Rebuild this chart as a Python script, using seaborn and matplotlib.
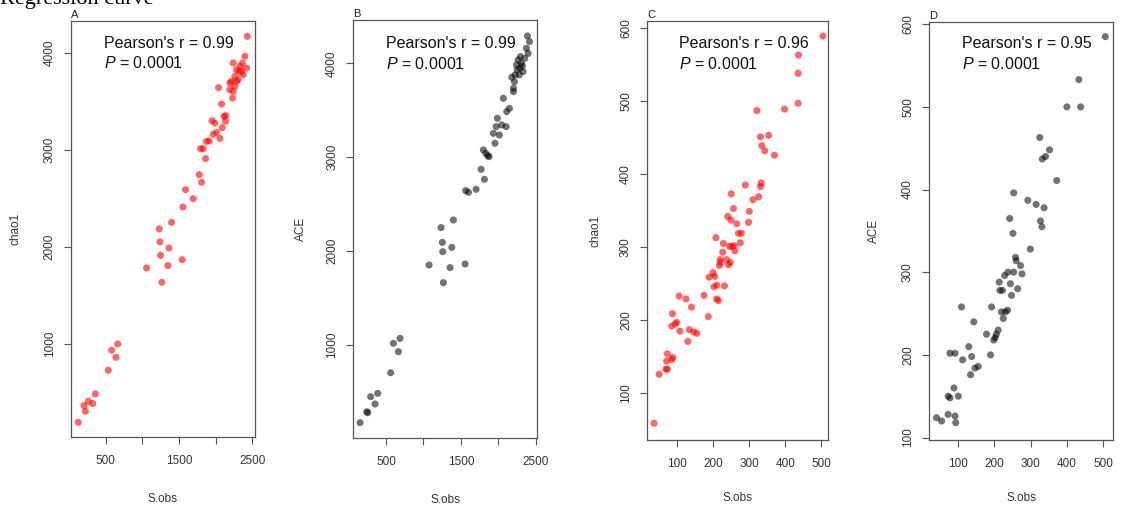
import matplotlib
matplotlib.use("Agg")
import matplotlib.pyplot as plt
import seaborn as sns
import pandas as pd

# ---------------- data ----------------
a_sobs = [127, 205, 223, 264, 323, 359, 536, 582, 641, 664, 1059, 1232, 1241, 1250, 1268,
          1364, 1350, 1400, 1545, 1555, 1591, 1695, 1777, 1809, 1795, 1832, 1864, 1877, 1914,
          1968, 1950, 1991, 2014, 2041, 2059, 2091, 2082, 2114, 2141, 2136, 2195, 2218, 2241,
          2232, 2241, 2264, 2286, 2309, 2332, 2355, 2377, 2400, 2423, 2432, 2286, 2323, 2195,
          2264, 2368]
a_chao1 = [192, 364, 306, 409, 385, 485, 729, 935, 863, 1000, 1784, 2186, 2052, 1914, 1636,
           1990, 1808, 2254, 1869, 2412, 2591, 2498, 2746, 2667, 3014, 3014, 2911, 3089, 3093,
           3162, 3302, 3278, 3182, 3643, 3120, 3230, 3474, 3347, 3354, 3296, 3622, 3708, 3605,
           3536, 3897, 3759, 3828, 3725, 3862, 3811, 3777, 3966, 3845, 4172, 3708, 3811, 3691,
           3656, 3897]

b_sobs = [153, 242, 255, 295, 353, 389, 562, 598, 665, 687, 1075, 1235, 1253, 1257, 1266,
          1355, 1378, 1400, 1556, 1565, 1601, 1703, 1770, 1814, 1800, 1832, 1859, 1876, 1934,
          1956, 1970, 1987, 2014, 2045, 2067, 2104, 2112, 2148, 2179, 2202, 2224, 2242, 2264,
          2286, 2309, 2331, 2353, 2376, 2398, 2389, 2416, 2215, 2251, 2278, 2295, 2322, 2202]
b_ace = [173, 290, 279, 450, 372, 485, 705, 1018, 929, 1071, 1852, 2250, 2093, 1994, 1664,
         1824, 2040, 2331, 1863, 2644, 2626, 2658, 2871, 2764, 3077, 3041, 3016, 3006, 3254,
         3148, 3325, 3414, 3236, 3343, 3627, 3325, 3485, 3520, 3851, 3734, 3876, 3982, 4035,
         3947, 4000, 3911, 4053, 4160, 4106, 4291, 4231, 3804, 3929, 3876, 4071, 3971, 3698]

c_sobs = [35, 49, 68, 72, 70, 72, 84, 87, 84, 86, 94, 98, 105, 107, 124, 129, 133, 139, 145,
          154, 174, 186, 188, 199, 202, 204, 207, 209, 210, 214, 217, 219, 220, 226, 228, 231,
          237, 240, 242, 245, 247, 249, 250, 252, 256, 258, 260, 265, 270, 275, 278, 289, 298,
          300, 310, 326, 331, 333, 321, 331, 335, 343, 354, 370, 398, 436, 436, 437, 505]
c_chao1 = [59, 126, 133, 133, 144, 154, 146, 149, 192, 209, 195, 197, 233, 185, 229, 171, 187,
           218, 184, 182, 234, 205, 259, 265, 246, 260, 313, 229, 248, 227, 275, 283, 279, 293,
           305, 247, 283, 342, 276, 301, 279, 337, 373, 301, 353, 302, 295, 332, 319, 306, 319,
           385, 334, 349, 365, 369, 383, 388, 487, 451, 439, 432, 453, 426, 489, 497, 538, 563,
           589]

d_sobs = [40, 54, 72, 72, 77, 77, 91, 88, 91, 93, 100, 112, 109, 129, 134, 137, 143, 146, 155,
          178, 189, 192, 198, 202, 205, 210, 213, 215, 219, 222, 224, 228, 230, 236, 237, 242,
          244, 247, 251, 253, 253, 258, 260, 264, 272, 276, 292, 299, 315, 325, 327, 331, 332,
          337, 341, 352, 372, 400, 433, 438, 506]
d_ace = [124, 120, 128, 150, 148, 202, 202, 160, 126, 118, 150, 194, 258, 210, 176, 198, 240,
         184, 186, 225, 200, 258, 218, 221, 225, 230, 288, 278, 252, 278, 244, 296, 252, 254,
         300, 365, 286, 272, 347, 396, 300, 318, 314, 280, 308, 298, 387, 328, 382, 463, 362,
         355, 437, 378, 440, 448, 411, 500, 533, 500, 585]

panel_letters = ["A", "B", "C", "D"]
y_labels = ["chao1", "ACE", "chao1", "ACE"]
x_label = "S.obs"
r_texts = ["Pearson's r = 0.99", "Pearson's r = 0.99", "Pearson's r = 0.96", "Pearson's r = 0.95"]
p_text = "$\\it{P}$ = 0.0001"
top_caption = "Regression curve"

x_ticks_big = [500, 1000, 1500, 2000, 2500]
x_ticklabels_big = ["500", "", "1500", "", "2500"]
y_ticks_big = [1000, 2000, 3000, 4000]
x_ticks_small = [100, 200, 300, 400, 500]
y_ticks_small = [100, 200, 300, 400, 500, 600]

# ---------------- styling ----------------
sns.set_style("white")
plt.rcParams["font.family"] = ["Liberation Sans", "DejaVu Sans"]
plt.rcParams["mathtext.fontset"] = "custom"
plt.rcParams["mathtext.it"] = "Liberation Sans:italic"
plt.rcParams["mathtext.rm"] = "Liberation Sans"

fig = plt.figure(figsize=(11.21, 5.07), dpi=100)

axes_rects = [
    (0.0633, 0.138, 0.1641, 0.8205),
    (0.3152, 0.1361, 0.1636, 0.8245),
    (0.5774, 0.1321, 0.1615, 0.8270),
    (0.8290, 0.1321, 0.1641, 0.8250),
]
xlims = [(27, 2537), (63, 2513), (16, 520), (20, 528)]
ylims = [(40, 4330), (10, 4461), (36, 610), (97, 603)]
colors = ["red", "black", "red", "black"]
alphas = [0.6, 0.55, 0.6, 0.55]
text_x = [0.179, 0.178, 0.175, 0.176]
text_y1 = [0.947, 0.944, 0.946, 0.948]
text_y2 = [0.899, 0.895, 0.896, 0.898]
ylab_x = [-0.27, -0.255, -0.255, -0.27]
xlab_y = [-0.135, -0.135, -0.125, -0.125]

datasets = [
    pd.DataFrame({"S.obs": a_sobs, "val": a_chao1}),
    pd.DataFrame({"S.obs": b_sobs, "val": b_ace}),
    pd.DataFrame({"S.obs": c_sobs, "val": c_chao1}),
    pd.DataFrame({"S.obs": d_sobs, "val": d_ace}),
]

for i, df in enumerate(datasets):
    ax = fig.add_axes(axes_rects[i])
    sns.scatterplot(data=df, x="S.obs", y="val", ax=ax, color=colors[i], alpha=alphas[i],
                    s=26, edgecolor="none", linewidth=0)
    ax.set_xlim(*xlims[i])
    ax.set_ylim(*ylims[i])
    if i < 2:
        ax.set_xticks(x_ticks_big)
        ax.set_xticklabels(x_ticklabels_big)
        ax.set_yticks(y_ticks_big)
        ax.set_yticklabels([str(v) for v in y_ticks_big], rotation=90, va="center")
    else:
        ax.set_xticks(x_ticks_small)
        ax.set_xticklabels([str(v) for v in x_ticks_small])
        ax.set_yticks(y_ticks_small)
        ax.set_yticklabels([str(v) for v in y_ticks_small], rotation=90, va="center")
    ax.tick_params(axis="both", which="both", direction="out", length=5, width=0.8,
                   color="#555555", labelsize=8.5, labelcolor="#333333", pad=6,
                   bottom=True, left=True)
    ax.tick_params(axis="x", pad=8)
    for sp in ax.spines.values():
        sp.set_color("#555555")
        sp.set_linewidth(0.9)
    ax.set_xlabel(x_label, fontsize=8.5, color="#333333")
    ax.set_ylabel(y_labels[i], fontsize=8.5, color="#333333")
    ax.xaxis.set_label_coords(0.5, xlab_y[i])
    ax.yaxis.set_label_coords(ylab_x[i], 0.5)
    ax.set_title(panel_letters[i], loc="left", fontsize=8, pad=2, color="#222222")
    ax.text(text_x[i], text_y1[i], r_texts[i], transform=ax.transAxes, fontsize=11.5,
            va="center", ha="left", color="#111111")
    ax.text(text_x[i], text_y2[i], p_text, transform=ax.transAxes, fontsize=11.5,
            va="center", ha="left", color="#111111")

# caption partly cut off at the top edge, as in the reference
fig.text(0.0, 0.993, top_caption, fontsize=16, family=["Liberation Serif", "DejaVu Serif"],
         va="baseline", ha="left", color="black")

fig.savefig("out.png", dpi=100)
